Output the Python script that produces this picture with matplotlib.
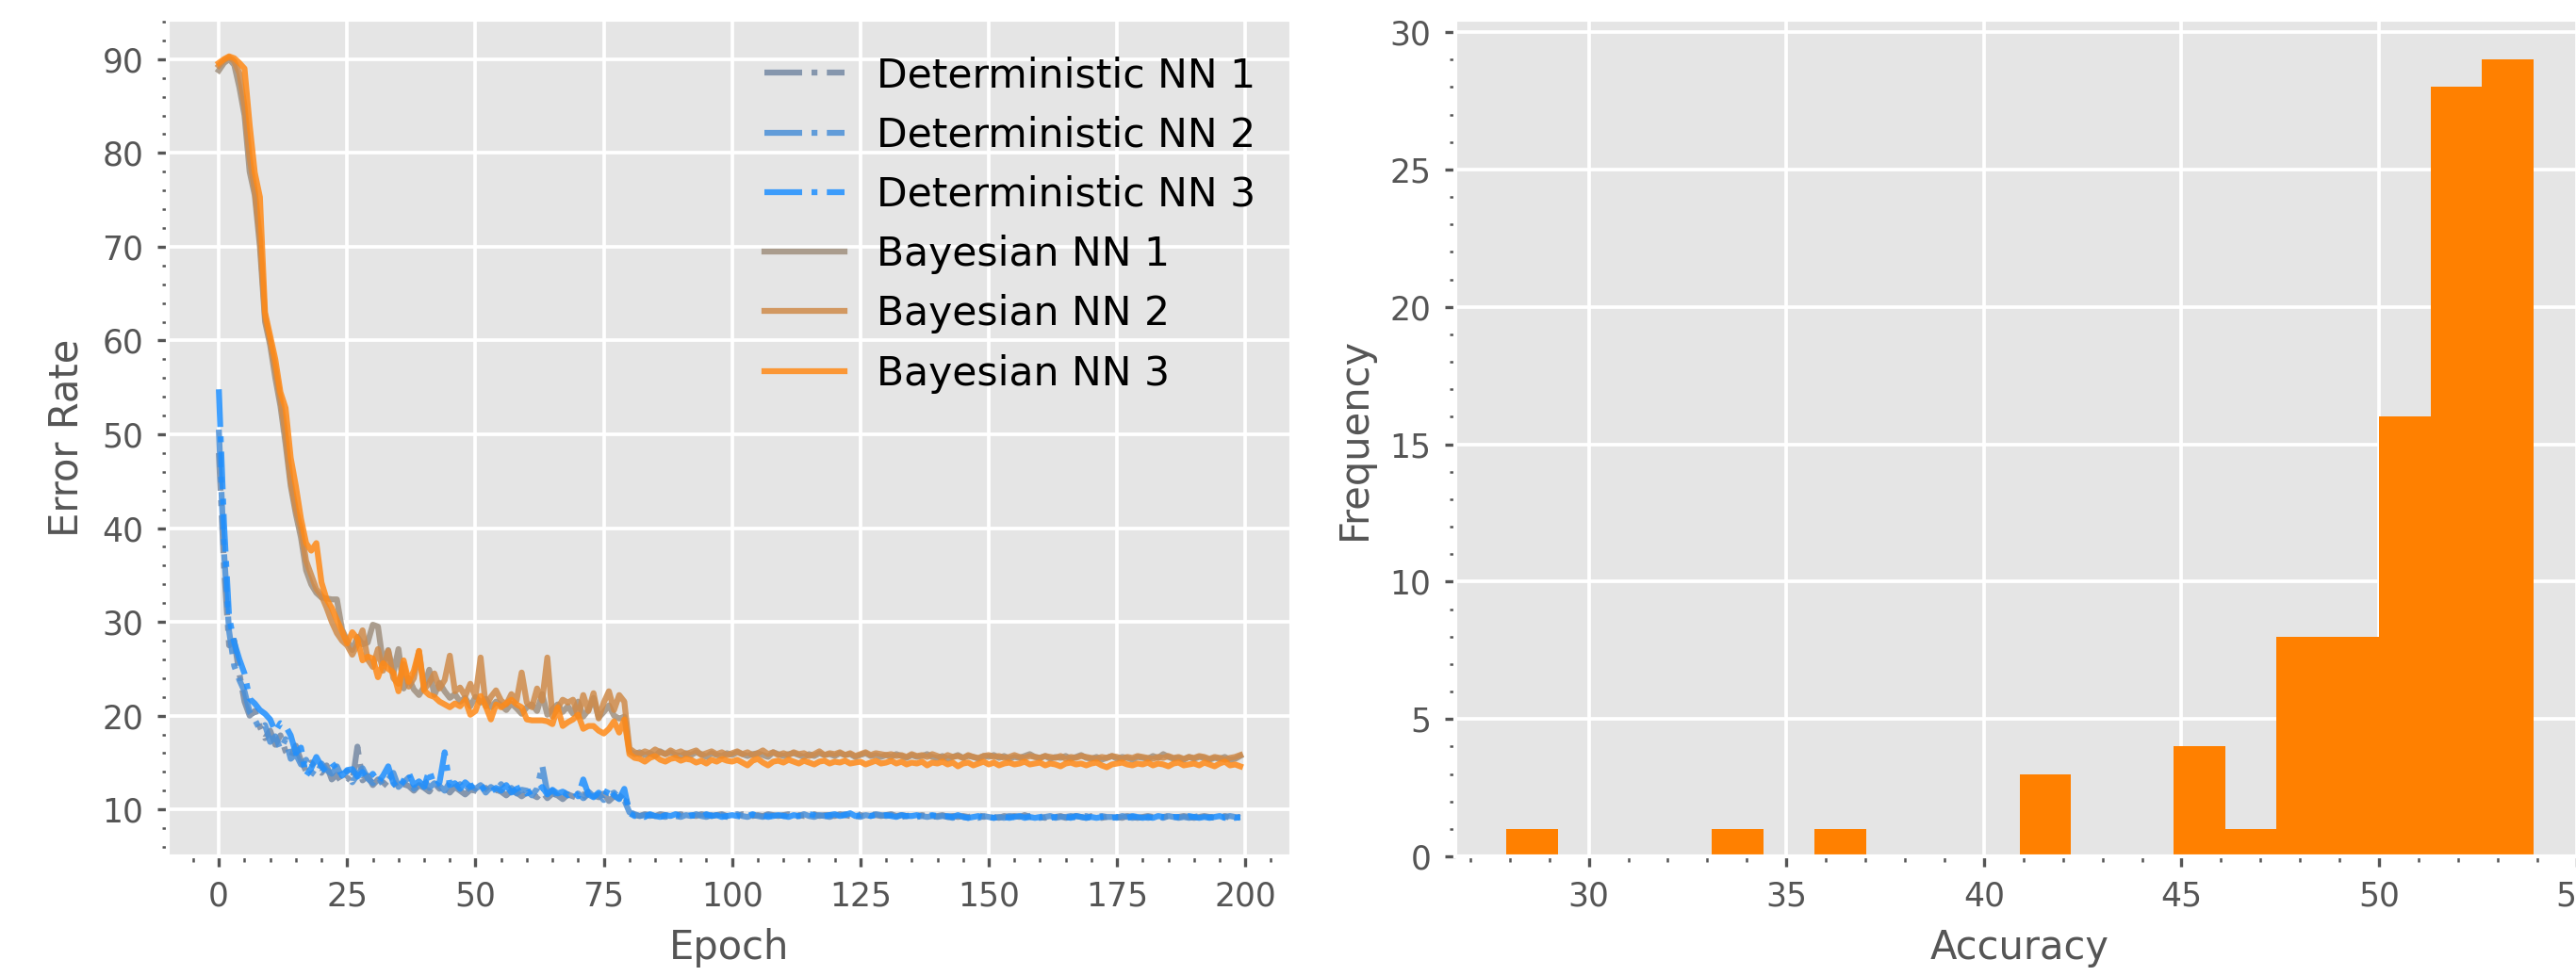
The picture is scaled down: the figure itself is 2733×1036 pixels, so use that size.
import numpy as np
import matplotlib
matplotlib.use("Agg")
import matplotlib.pyplot as plt

# ---------------- data ----------------
epochs = list(range(200))

det_nn_1 = [
    48.0, 36.0, 27.5, 28.0, 24.5, 21.5, 20.0, 20.5, 18.8, 17.6,
    18.4, 16.9, 17.9, 16.2, 15.5, 16.8, 15.2, 14.1, 15.0, 14.3,
    13.9, 14.7, 13.2, 13.7, 12.8, 13.4, 12.9, 16.7, 13.1, 13.6,
    12.6, 13.2, 12.9, 12.4, 13.0, 12.1, 12.7, 12.5, 12.0, 12.6,
    12.3, 11.9, 12.8, 12.2, 12.5, 11.8, 12.4, 12.0, 11.6, 12.1,
    12.0, 11.7, 12.3, 11.6, 12.1, 11.9, 11.5, 12.0, 11.8, 11.4,
    11.8, 11.6, 11.3, 11.9, 11.2, 11.7, 11.5, 11.1, 11.6, 11.4,
    11.2, 11.6, 11.0, 11.5, 11.3, 11.7, 10.9, 11.4, 11.2, 11.8,
    9.8, 9.4, 9.3, 9.5, 9.4, 9.3, 9.5, 9.4, 9.3, 9.4,
    9.5, 9.3, 9.4, 9.3, 9.5, 9.4, 9.3, 9.4, 9.5, 9.3,
    9.4, 9.3, 9.5, 9.4, 9.3, 9.4, 9.3, 9.5, 9.4, 9.3,
    9.4, 9.5, 9.3, 9.4, 9.3, 9.4, 9.5, 9.3, 9.4, 9.4,
    9.3, 9.5, 9.4, 9.3, 9.7, 9.4, 9.3, 9.5, 9.4, 9.3,
    9.4, 9.5, 9.3, 9.4, 9.3, 9.4, 9.3, 9.4, 9.3, 9.2,
    9.3, 9.4, 9.2, 9.3, 9.2, 9.3, 9.2, 9.3, 9.4, 9.2,
    9.3, 9.2, 9.1, 9.3, 9.2, 9.3, 9.2, 9.4, 9.2, 9.3,
    9.2, 9.1, 9.3, 9.2, 9.3, 9.1, 9.2, 9.3, 9.2, 9.1,
    9.3, 9.2, 9.1, 9.2, 9.3, 9.2, 9.1, 9.3, 9.2, 9.1,
    9.2, 9.3, 9.2, 9.1, 9.2, 9.3, 9.1, 9.2, 9.3, 9.2,
    9.1, 9.2, 9.3, 9.2, 9.1, 9.2, 9.3, 9.1, 9.2, 9.2,
]

det_nn_2 = [
    50.5, 37.5, 29.0, 25.3, 23.8, 22.6, 20.4, 19.6, 18.5, 19.0,
    17.2, 17.8, 16.4, 17.5, 15.4, 15.9, 14.8, 15.3, 14.0, 13.6,
    14.9, 14.2, 13.8, 14.6, 13.4, 14.1, 12.9, 13.7, 14.4, 13.3,
    12.8, 13.5, 12.6, 13.2, 13.9, 12.4, 12.9, 13.4, 12.2, 12.7,
    13.1, 12.3, 12.8, 12.5, 12.0, 12.9, 12.4, 12.7, 11.9, 12.5,
    12.2, 12.6, 11.8, 12.4, 12.0, 12.7, 11.9, 12.3, 11.7, 12.1,
    12.0, 11.5, 12.2, 14.7, 11.8, 12.0, 11.4, 11.9, 11.6, 11.3,
    11.7, 11.2, 11.9, 11.4, 11.6, 11.0, 11.5, 11.8, 11.2, 11.0,
    9.7, 9.5, 9.3, 9.4, 9.3, 9.5, 9.3, 9.2, 9.4, 9.3,
    9.2, 9.4, 9.3, 9.5, 9.3, 9.2, 9.4, 9.3, 9.4, 9.2,
    9.3, 9.5, 9.3, 9.2, 9.4, 9.3, 9.2, 9.4, 9.3, 9.5,
    9.3, 9.4, 9.2, 9.3, 9.5, 9.3, 9.2, 9.4, 9.3, 9.2,
    9.4, 9.3, 9.5, 9.4, 9.3, 9.2, 9.4, 9.3, 9.5, 9.4,
    9.3, 9.4, 9.3, 9.2, 9.3, 9.4, 9.2, 9.3, 9.2, 9.3,
    9.2, 9.3, 9.2, 9.1, 9.3, 9.2, 9.1, 9.2, 9.1, 9.3,
    9.2, 9.1, 9.2, 9.1, 9.3, 9.2, 9.1, 9.2, 9.3, 9.2,
    9.1, 9.2, 9.3, 9.1, 9.2, 9.2, 9.3, 9.1, 9.2, 9.3,
    9.1, 9.2, 9.3, 9.2, 9.2, 9.1, 9.3, 9.2, 9.1, 9.2,
    9.3, 9.1, 9.2, 9.2, 9.1, 9.3, 9.2, 9.1, 9.2, 9.1,
    9.2, 9.3, 9.1, 9.2, 9.2, 9.1, 9.2, 9.3, 9.2, 9.1,
]

det_nn_3 = [
    54.8, 40.5, 30.5, 27.8, 26.0, 24.5, 21.8, 21.3, 20.6, 20.2,
    19.6, 18.3, 19.2, 18.9, 17.9, 16.0, 16.6, 13.6, 14.4, 15.6,
    14.6, 13.9, 14.5, 14.9, 13.6, 14.2, 14.3, 13.5, 14.0, 13.2,
    13.8, 12.9, 13.6, 14.6, 12.8, 12.2, 13.1, 13.9, 12.6, 13.0,
    12.4, 14.2, 12.5, 12.9, 16.1, 12.6, 12.8, 12.2, 12.9, 12.4,
    12.7, 12.1, 12.5, 11.9, 12.3, 12.0, 12.6, 11.8, 12.2, 12.4,
    11.7, 12.0, 11.9, 12.4, 11.6, 12.1, 11.7, 11.9, 11.5, 12.0,
    11.4, 13.2, 11.6, 11.3, 11.8, 11.2, 12.4, 11.5, 11.1, 12.2,
    9.6, 9.3, 9.4, 9.2, 9.5, 9.3, 9.2, 9.4, 9.3, 9.5,
    9.3, 9.2, 9.4, 9.3, 9.2, 9.5, 9.3, 9.4, 9.2, 9.3,
    9.4, 9.3, 9.2, 9.3, 9.5, 9.3, 9.4, 9.2, 9.3, 9.4,
    9.3, 9.2, 9.4, 9.3, 9.3, 9.5, 9.4, 9.2, 9.3, 9.4,
    9.5, 9.3, 9.4, 9.6, 9.3, 9.4, 9.6, 9.3, 9.4, 9.3,
    9.4, 9.3, 9.2, 9.4, 9.3, 9.3, 9.4, 9.2, 9.3, 9.4,
    9.3, 9.2, 9.3, 9.2, 9.4, 9.2, 9.1, 9.2, 9.3, 9.1,
    9.2, 9.1, 9.3, 9.2, 9.1, 9.2, 9.3, 9.1, 9.2, 9.1,
    9.2, 9.3, 9.1, 9.2, 9.1, 9.2, 9.1, 9.3, 9.2, 9.1,
    9.2, 9.1, 9.2, 9.3, 9.1, 9.2, 9.2, 9.1, 9.3, 9.2,
    9.1, 9.2, 9.1, 9.3, 9.2, 9.1, 9.2, 9.2, 9.1, 9.3,
    9.2, 9.1, 9.2, 9.1, 9.2, 9.3, 9.1, 9.2, 9.1, 9.2,
]

bayes_nn_1 = [
    88.8, 89.6, 90.0, 89.4, 87.0, 84.0, 78.0, 75.5, 70.0, 62.0,
    59.5, 56.0, 53.0, 49.0, 44.5, 41.5, 39.0, 35.5, 34.0, 33.1,
    32.6, 32.5, 32.4, 32.4, 29.2, 28.0, 27.0, 28.4, 27.6, 27.8,
    29.7, 29.5, 25.6, 27.0, 24.5, 27.1, 22.9, 24.0, 22.8, 22.2,
    23.1, 24.9, 22.2, 23.5, 22.6, 21.9, 22.3, 21.5, 21.9, 21.0,
    22.0, 21.4, 21.8, 20.9, 21.5, 21.1, 20.6, 21.3, 20.8, 20.2,
    20.9, 21.2, 20.5, 22.3, 20.1, 20.7, 21.2, 20.4, 21.0, 20.2,
    21.5, 19.9, 20.6, 21.9, 19.8, 20.4, 21.1, 20.0, 19.7, 19.9,
    16.2, 15.9, 16.1, 15.8, 16.0, 15.7, 16.2, 15.9, 16.1, 15.8,
    15.7, 16.0, 15.8, 16.1, 15.9, 15.6, 16.0, 15.8, 15.7, 16.0,
    15.8, 16.1, 15.9, 15.7, 15.9, 16.0, 15.8, 15.6, 16.1, 15.9,
    15.7, 15.9, 16.0, 15.8, 15.6, 15.9, 15.7, 16.0, 15.8, 15.9,
    15.7, 16.0, 15.8, 15.9, 15.6, 15.8, 16.0, 15.7, 15.8, 15.6,
    15.8, 15.6, 15.9, 15.7, 15.5, 15.8, 15.6, 15.7, 15.9, 15.6,
    15.5, 15.7, 15.4, 15.6, 15.8, 15.5, 15.7, 15.6, 15.4, 15.7,
    15.6, 15.8, 15.5, 15.7, 15.4, 15.6, 15.5, 15.7, 15.9, 15.6,
    15.5, 15.7, 15.4, 15.6, 15.5, 15.7, 15.4, 15.6, 15.8, 15.5,
    15.4, 15.6, 15.3, 15.5, 15.7, 15.4, 15.6, 15.5, 15.3, 15.6,
    15.5, 15.4, 15.7, 15.5, 15.9, 15.6, 15.4, 15.5, 15.3, 15.6,
    15.4, 15.6, 15.5, 15.3, 15.5, 15.4, 15.6, 15.3, 15.4, 15.7,
]

bayes_nn_2 = [
    89.3, 89.9, 90.2, 89.8, 88.5, 85.0, 79.5, 76.0, 71.0, 62.5,
    60.0, 57.0, 53.8, 50.0, 45.0, 42.0, 40.0, 36.5, 35.0, 33.5,
    32.8, 31.5, 30.0, 28.8, 28.0, 27.5, 26.5, 27.6, 29.1, 26.0,
    25.2, 27.1, 24.8, 26.9, 24.0, 23.4, 25.5, 23.1, 24.0, 26.9,
    22.8, 23.5, 24.5, 22.9, 23.8, 26.4, 22.6, 23.0, 22.1, 23.4,
    22.0, 26.2, 21.0, 22.0, 22.7, 21.6, 21.2, 22.3, 21.6, 24.6,
    21.4, 20.9, 22.9, 21.6, 26.2, 19.9, 20.8, 21.7, 21.4, 21.7,
    19.9, 22.2, 20.5, 22.4, 19.7, 21.4, 22.6, 20.6, 22.2, 21.5,
    16.5, 16.1, 15.9, 16.2, 16.0, 16.4, 16.1, 15.9, 16.3, 16.0,
    16.2, 15.9, 16.1, 16.3, 15.8, 16.0, 16.2, 15.9, 16.1, 15.8,
    16.0, 16.2, 15.9, 16.1, 15.8, 16.0, 16.3, 15.9, 16.1, 15.8,
    16.0, 15.8, 16.1, 15.9, 16.0, 15.7, 15.9, 16.2, 15.8, 16.0,
    15.9, 16.1, 15.8, 16.0, 15.7, 15.9, 16.1, 15.8, 16.0, 15.9,
    15.8, 15.9, 15.7, 15.8, 15.6, 15.9, 15.7, 15.8, 15.6, 15.9,
    15.7, 15.5, 15.8, 15.6, 15.7, 15.5, 15.8, 15.6, 15.5, 15.7,
    15.8, 15.6, 15.7, 15.5, 15.6, 15.8, 15.6, 15.5, 15.7, 15.6,
    15.5, 15.7, 15.6, 15.5, 15.7, 15.4, 15.6, 15.5, 15.7, 15.6,
    15.5, 15.4, 15.6, 15.5, 15.7, 15.6, 15.4, 15.6, 15.5, 15.7,
    15.6, 15.5, 15.4, 15.6, 15.5, 15.7, 15.5, 15.6, 15.4, 15.6,
    15.5, 15.7, 15.6, 15.4, 15.6, 15.5, 15.3, 15.5, 15.6, 15.8,
]

bayes_nn_3 = [
    89.6, 90.0, 90.3, 90.1, 89.6, 89.0, 83.0, 77.9, 75.3, 63.0,
    60.5, 58.0, 54.5, 52.8, 47.5, 44.5, 41.0, 38.4, 37.6, 38.4,
    34.2, 32.4, 31.5, 30.2, 29.0, 27.7, 28.9, 28.2, 25.9, 26.3,
    26.1, 24.1, 25.6, 25.0, 24.6, 22.6, 25.9, 23.6, 24.8, 26.9,
    22.7, 22.2, 22.0, 21.5, 21.2, 20.9, 21.3, 21.0, 21.7, 20.1,
    20.5, 22.1, 21.0, 19.6, 21.2, 20.9, 21.3, 21.7, 21.2, 20.9,
    19.6, 19.5, 19.5, 19.5, 19.4, 19.1, 20.9, 18.9, 19.3, 19.6,
    20.1, 18.6, 18.9, 18.9, 18.4, 18.1, 18.6, 19.4, 18.2, 19.6,
    15.9, 15.5, 15.4, 15.1, 15.5, 15.7, 15.3, 15.1, 15.4, 15.5,
    15.2, 15.4, 15.3, 15.0, 15.2, 14.9, 15.3, 15.1, 15.4, 15.2,
    15.1, 15.3, 15.0, 14.7, 15.2, 15.4, 15.0, 14.7, 15.1, 15.2,
    15.0, 15.3, 15.1, 14.9, 15.2, 15.0, 14.8, 15.1, 15.2, 14.9,
    15.1, 15.0, 15.2, 14.9, 15.0, 15.1, 14.8, 15.0, 15.2, 14.9,
    15.0, 15.2, 14.9, 15.1, 14.8, 15.0, 14.9, 15.1, 14.7, 15.0,
    14.9, 15.1, 14.8, 15.0, 14.6, 14.9, 15.0, 14.7, 14.9, 15.1,
    14.8, 15.0, 14.7, 14.9, 15.0, 14.8, 14.9, 15.1, 14.8, 14.9,
    15.0, 14.7, 14.9, 14.8, 14.6, 14.9, 15.0, 14.8, 14.9, 14.7,
    14.9, 15.0, 14.7, 14.5, 14.8, 14.9, 15.0, 14.8, 14.7, 14.9,
    14.8, 15.0, 14.7, 14.9, 14.8, 14.6, 14.9, 15.0, 14.7, 14.8,
    14.9, 14.7, 15.0, 14.8, 14.6, 14.9, 15.1, 14.7, 14.8, 14.6,
]

series_labels = ["Deterministic NN 1", "Deterministic NN 2", "Deterministic NN 3",
                 "Bayesian NN 1", "Bayesian NN 2", "Bayesian NN 3"]

acc_bin_edges = [27.92, 29.22, 30.52, 31.82, 33.12, 34.42, 35.71, 37.01, 38.31, 39.61,
                 40.91, 42.21, 43.51, 44.81, 46.11, 47.40, 48.70, 50.00, 51.30, 52.60, 53.90]
acc_counts = [1, 0, 0, 0, 1, 0, 1, 0, 0, 0, 3, 0, 0, 4, 1, 8, 8, 16, 28, 29]

# ---------------- style ----------------
plt.style.use("ggplot")
plt.rcParams["font.family"] = ["DejaVu Sans"]

W, H = 2733, 1036
DPI = 300
fig = plt.figure(figsize=(W / DPI, H / DPI), dpi=DPI)

ax1 = fig.add_axes([178 / W, 1 - 909 / H, (1370 - 178) / W, (909 - 21) / H])
ax2 = fig.add_axes([1544 / W, 1 - 909 / H, (2742 - 1544) / W, (909 - 21) / H])

colors = ["#7489a4", "#4a8fd8", "#1e8fff", "#a0907e", "#cf8b4a", "#ff8a17"]
styles = ["-.", "-.", "-.", "-", "-", "-"]
data = [det_nn_1, det_nn_2, det_nn_3, bayes_nn_1, bayes_nn_2, bayes_nn_3]

for y, c, ls, lab in zip(data, colors, styles, series_labels):
    ax1.plot(epochs, y, ls, color=c, lw=1.5, alpha=0.85, label=lab)

ax1.set_ylim(5.0, 94.2)
ax1.set_xlabel("Epoch", fontsize=10, color="#555555")
ax1.set_ylabel("Error Rate", fontsize=10, color="#555555")
leg = ax1.legend(loc="upper right", frameon=False, fontsize=10.2, labelspacing=0.5,
                 handlelength=2.0)
for t in leg.get_texts():
    t.set_color("black")

ax2.hist(acc_bin_edges[:-1], bins=acc_bin_edges, weights=acc_counts, color="#ff8000")
ax2.set_xlabel("Accuracy", fontsize=10, color="#555555")
ax2.set_ylabel("Frequency", fontsize=10, color="#555555")

for ax in (ax1, ax2):
    ax.minorticks_on()
    ax.grid(True, which="major", color="white", lw=0.9)
    ax.grid(False, which="minor")
    ax.tick_params(which="major", labelsize=8.3, length=2.6, width=0.8, colors="#555555")
    ax.tick_params(which="minor", length=1.4, width=0.6, colors="#555555")
    ax.set_axisbelow(True)

fig.savefig("out.png", dpi=DPI)
